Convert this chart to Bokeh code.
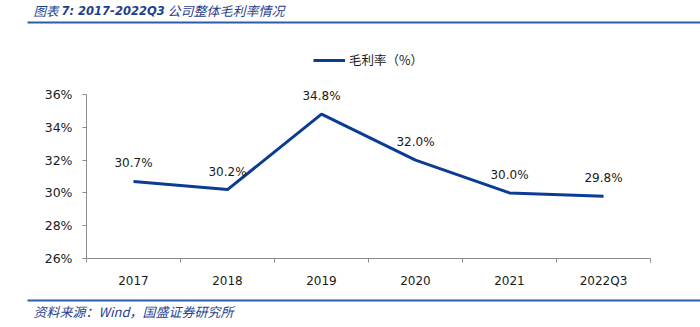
from bokeh.plotting import figure
from bokeh.layouts import column, row
from bokeh.models import (ColumnDataSource, FixedTicker, LabelSet, Legend,
                          LegendItem, Range1d)
from bokeh.core.properties import value
from bokeh.embed import file_html
from bokeh.resources import INLINE

categories = ["2017", "2018", "2019", "2020", "2021", "2022Q3"]
gross_margin = [30.7, 30.2, 34.8, 32.0, 30.0, 29.8]
y_ticks = [26, 28, 30, 32, 34, 36]
title_parts = ["图表", "7:  2017-2022Q3", "公司整体毛利率情况"]
source_text = "资料来源：Wind，国盛证券研究所"
legend_text = "毛利率（%）"

LINE = "#0A3C94"
BLUE = "#1F3F8F"
RULE = "#2F5BA8"
AXIS = "#8C8C8C"
TXT = "#1A1A1A"
W = 700


def blank(h):
    f = figure(width=W, height=h, output_backend="svg", toolbar_location=None,
               x_range=Range1d(0, W), y_range=Range1d(h, 0),
               min_border=0, x_axis_type=None, y_axis_type=None)
    f.outline_line_color = None
    f.grid.visible = False
    return f


# ---- header
HH = 30
head = blank(HH)
head.text(x=[33], y=[10], text=[title_parts[0]], text_font=value("Noto Sans CJK SC"),
          text_font_style="italic", text_font_size="12.5px", text_color=BLUE,
          text_baseline="middle")
head.text(x=[61], y=[10], text=[title_parts[1]], text_font=value("DejaVu Sans"),
          text_font_style="bold italic", text_font_size="11.5px", text_color=BLUE,
          text_baseline="middle")
head.text(x=[167], y=[10], text=[title_parts[2]], text_font=value("Noto Sans CJK SC"),
          text_font_style="italic", text_font_size="13px", text_color=BLUE,
          text_baseline="middle")
head.segment(x0=[27], y0=[22], x1=[W], y1=[22], line_color=RULE, line_width=2)

# ---- main chart
MH = 260
xs = [i + 0.5 for i in range(len(categories))]
src = ColumnDataSource(dict(x=xs, y=gross_margin,
                            lab=[f"{v:.1f}%" for v in gross_margin]))

p = figure(width=W, height=MH, output_backend="svg", toolbar_location=None,
           x_range=Range1d(0, len(categories)), y_range=Range1d(26, 38.68),
           min_border_left=86, min_border_right=50, min_border_top=20,
           min_border_bottom=32)
p.outline_line_color = None
p.grid.visible = False

r = p.line("x", "y", source=src, line_color=LINE, line_width=3)

p.add_layout(LabelSet(x="x", y="y", text="lab", source=src, text_align="center",
                      text_baseline="bottom", y_offset=11,
                      text_font_size=value("12px"),
                      text_font=value("DejaVu Sans"), text_color=TXT))

p.xaxis.ticker = FixedTicker(ticks=xs, minor_ticks=list(range(len(categories) + 1)))
p.xaxis.major_label_overrides = {x: c for x, c in zip(xs, categories)}
p.xaxis.major_tick_line_color = None
p.xaxis.minor_tick_in = 0
p.xaxis.minor_tick_out = 4
p.xaxis.minor_tick_line_color = AXIS
p.xaxis.axis_line_color = AXIS
p.xaxis.major_label_standoff = 9
p.xaxis.major_label_text_font = "DejaVu Sans"
p.xaxis.major_label_text_font_size = "12px"
p.xaxis.major_label_text_color = TXT

p.yaxis.ticker = FixedTicker(ticks=y_ticks)
p.yaxis.bounds = (26, 36)
p.yaxis.major_label_overrides = {t: f"{t}%" for t in y_ticks}
p.yaxis.minor_tick_line_color = None
p.yaxis.major_tick_in = 0
p.yaxis.major_tick_out = 4
p.yaxis.major_tick_line_color = AXIS
p.yaxis.axis_line_color = AXIS
p.yaxis.major_label_standoff = 10
p.yaxis.major_label_text_font = "DejaVu Sans"
p.yaxis.major_label_text_font_size = "12.5px"
p.yaxis.major_label_text_color = TXT

legend = Legend(items=[LegendItem(label=legend_text, renderers=[r])],
                location="top_center", orientation="horizontal",
                border_line_color=None, background_fill_alpha=0,
                padding=1, margin=0, glyph_width=32, glyph_height=14,
                label_standoff=4, label_text_font="Noto Sans CJK SC",
                label_text_font_size="12.5px", label_text_color=TXT)
p.add_layout(legend, "center")

# ---- footer
FH = 327 - HH - MH
foot = blank(FH)
foot.segment(x0=[27], y0=[10], x1=[W], y1=[10], line_color=RULE, line_width=2)
foot.text(x=[33], y=[21], text=[source_text], text_font=value("Noto Sans CJK SC"),
          text_font_style="italic", text_font_size="13px", text_color=BLUE,
          text_baseline="middle")

layout = column(row(head), p, row(foot), spacing=0)
open("out.html", "w").write(file_html(layout, INLINE))
